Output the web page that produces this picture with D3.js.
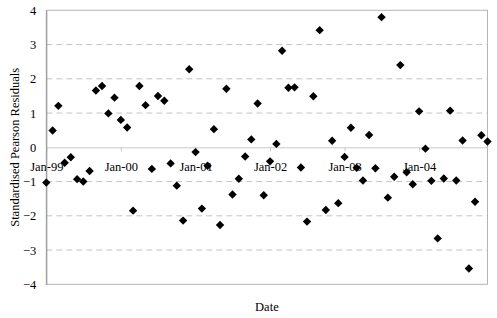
<!DOCTYPE html>
<html>
<head>
<meta charset="utf-8">
<script src="https://cdn.jsdelivr.net/npm/d3@7"></script>
<style>
  body { margin: 0; background: #fff; }
  text { font-family: "Liberation Serif", "Times New Roman", serif; fill: #000; }
</style>
</head>
<body>
<script>
// basic settings
const width = 497;
const height = 318;
const marginTop = 10.3;
const marginBottom = 33.7;
const marginLeft = 46.3;
const marginRight = 9.5;

// monthly residuals, Jan-99 .. Dec-04
const residuals = [
  -1.03, 0.49, 1.21, -0.45, -0.29, -0.93, -1.00, -0.69, 1.66, 1.79, 0.99, 1.45,
  0.80, 0.58, -1.85, 1.79, 1.23, -0.63, 1.50, 1.36, -0.47, -1.12, -2.14, 2.28,
  -0.14, -1.79, -0.54, 0.53, -2.27, 1.71, -1.38, -0.92, -0.27, 0.23, 1.28, -1.40,
  -0.41, 0.10, 2.82, 1.74, 1.75, -0.59, -2.17, 1.49, 3.42, -1.83, 0.19, -1.63,
  -0.28, 0.57, -0.60, -0.97, 0.36, -0.61, 3.80, -1.47, -0.86, 2.40, -0.73, -1.08,
  1.05, -0.04, -0.98, -2.66, -0.91, 1.07, -0.97, 0.20, -3.54, -1.59, 0.35, 0.17
];
const firstMonth = new Date(1999, 0, 1);
const months = d3.timeMonth.range(firstMonth, d3.timeMonth.offset(firstMonth, residuals.length));
const yTicks = [-4, -3, -2, -1, 0, 1, 2, 3, 4];
const gridValues = [-3, -2, -1, 1, 2, 3];

const data = months.map((d, i) => ({date: d, value: residuals[i]}));

const svg = d3.select('body')
  .append('svg')
  .attr('width', width)
  .attr('height', height);

const x = d3.scaleTime()
  .domain([months[0], months[months.length - 1]])
  .range([marginLeft, width - marginRight]);

const y = d3.scaleLinear()
  .domain([-4, 4])
  .range([height - marginBottom, marginTop]);

// dashed gridlines
svg.append('g')
  .selectAll('line')
  .data(gridValues)
  .enter().append('line')
  .attr('x1', marginLeft)
  .attr('x2', width - marginRight)
  .attr('y1', d => y(d))
  .attr('y2', d => y(d))
  .attr('stroke', '#c4c4c4')
  .attr('stroke-dasharray', '6,4');

// plot border
svg.append('rect')
  .attr('x', marginLeft)
  .attr('y', y(4))
  .attr('width', width - marginRight - marginLeft)
  .attr('height', y(-4) - y(4))
  .attr('fill', 'none')
  .attr('stroke', '#b4b4b4');

// zero axis with year ticks
const xAxis = svg.append('g')
  .attr('transform', 'translate(0,' + y(0) + ')')
  .call(d3.axisBottom(x)
    .ticks(d3.timeYear.every(1))
    .tickFormat(d3.timeFormat('%b-%y'))
    .tickSizeInner(4)
    .tickSizeOuter(0));
xAxis.select('.domain').attr('stroke', '#c8c8c8');
xAxis.selectAll('.tick line').attr('stroke', '#c8c8c8');
xAxis.selectAll('.tick text')
  .attr('y', 19.5)
  .attr('dy', '0.35em')
  .attr('font-size', '12.5px')
  .attr('font-family', '"Liberation Serif", serif');

// value axis
const yAxis = svg.append('g')
  .attr('transform', 'translate(' + marginLeft + ',0)')
  .call(d3.axisLeft(y)
    .tickValues(yTicks)
    .tickFormat(d3.format('d'))
    .tickSize(0)
    .tickPadding(10));
yAxis.select('.domain').attr('stroke', '#909090');
yAxis.selectAll('.tick text')
  .attr('font-size', '12.5px')
  .attr('font-family', '"Liberation Serif", serif');

// diamonds
const r = 4.2;
svg.append('g')
  .selectAll('path')
  .data(data)
  .enter().append('path')
  .attr('d', 'M0,' + (-r) + 'L' + r + ',0L0,' + r + 'L' + (-r) + ',0Z')
  .attr('transform', d => 'translate(' + x(d.date) + ',' + y(d.value) + ')')
  .attr('fill', '#000');

// axis titles
svg.append('text')
  .attr('x', (marginLeft + width - marginRight) / 2)
  .attr('y', 311)
  .attr('text-anchor', 'middle')
  .attr('font-size', '12.5px')
  .text('Date');

svg.append('text')
  .attr('transform', 'translate(18.5,' + y(0) + ') rotate(-90)')
  .attr('text-anchor', 'middle')
  .attr('font-size', '12.5px')
  .text('Standardised Pearson Residuals');
</script>
</body>
</html>
